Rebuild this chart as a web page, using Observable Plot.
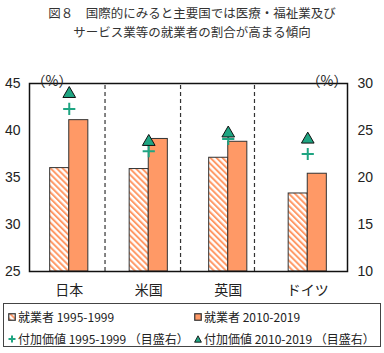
<!DOCTYPE html>
<html><head><meta charset="utf-8">
<script src="https://cdn.jsdelivr.net/npm/d3@7"></script>
<script src="https://cdn.jsdelivr.net/npm/@observablehq/plot@0.6"></script>
<style>
body{margin:0;background:#fff;font-family:"Liberation Sans","Noto Sans CJK JP",sans-serif;color:#222;}
#wrap{width:384px;}
.title{height:40px;box-sizing:border-box;padding-top:4px;text-align:center;font-family:"Noto Sans CJK JP",sans-serif;font-size:12.5px;color:#333;}
.title div{height:18.5px;line-height:18.5px;}
.legend{box-sizing:border-box;margin:3px 0 0 3px;width:378px;height:44px;border:1.5px solid #444;font-family:"Noto Sans CJK JP",sans-serif;font-size:12px;color:#222;position:relative;}
.item{position:absolute;display:flex;align-items:center;white-space:nowrap;}
.item svg{margin-right:2px;}
</style></head>
<body><div id="wrap">
<div class="title"><div>図８　国際的にみると主要国では医療・福祉業及び</div><div>サービス業等の就業者の割合が高まる傾向</div></div>
<div id="chart"></div>
<div class="legend" id="legend"></div>
</div>
<script>
const categories = ["日本", "米国", "英国", "ドイツ"];
const emp1995 = [36.0, 35.9, 37.1, 33.3];       // left axis (%)
const emp2010 = [41.1, 39.1, 38.8, 35.4];       // left axis (%)
const va1995 = [27.3, 22.8, 24.1, 22.5];        // right axis (%)
const va2010 = [28.9, 23.8, 24.7, 24.05];       // right axis (%)
const leftTicks = [25, 30, 35, 40, 45];
const rightTicks = [10, 15, 20, 25, 30];
const separators = [1.45, 2.4, 3.33];
const seriesNames = ["就業者 1995-1999", "就業者 2010-2019", "付加価値 1995-1999（目盛右）", "付加価値 2010-2019（目盛右）"];

const ORANGE = "#FF9966", GREEN = "#1fa582";
const rightOffset = leftTicks[0] - rightTicks[0]; // maps right scale onto left
const w = 0.24;

const rows = categories.map((c, k) => ({c, i: k + 1, e1: emp1995[k], e2: emp2010[k], v1: va1995[k] + rightOffset, v2: va2010[k] + rightOffset}));

const defs = () => {
  const d = d3.create("svg:defs");
  const p = d.append("pattern").attr("id", "hatch").attr("patternUnits", "userSpaceOnUse")
    .attr("width", 4.3).attr("height", 4.3).attr("patternTransform", "rotate(-45)");
  p.append("rect").attr("width", 4.3).attr("height", 4.3).attr("fill", "white");
  p.append("rect").attr("width", 2).attr("height", 4.3).attr("fill", ORANGE);
  return d.node();
};

const chart = Plot.plot({
  width: 384, height: 260,
  marginLeft: 29, marginRight: 37, marginTop: 43, marginBottom: 29,
  style: {fontFamily: "'Liberation Sans','Noto Sans CJK JP',sans-serif", fontSize: "14px", color: "#222", background: "white"},
  x: {type: "linear", domain: [0.5, 4.5]},
  y: {domain: [25, 45]},
  marks: [
    defs,
    Plot.ruleX(separators, {y1: 25, y2: 45, stroke: "#333", strokeWidth: 1.2, strokeDasharray: "4,3"}),
    Plot.rectY(rows, {x1: d => d.i - w, x2: d => d.i, y1: 25, y2: "e1", fill: "url(#hatch)", stroke: "#333", strokeWidth: 1}),
    Plot.rectY(rows, {x1: d => d.i, x2: d => d.i + w, y1: 25, y2: "e2", fill: ORANGE, stroke: "#333", strokeWidth: 1}),
    Plot.dot(rows, {x: "i", y: "v1", symbol: "plus", stroke: GREEN, strokeWidth: 2, r: 4}),
    Plot.dot(rows, {x: "i", y: "v2", symbol: "triangle", fill: GREEN, stroke: "#111", strokeWidth: 1, r: 4.7}),
    Plot.frame({stroke: "#111", strokeWidth: 1.5}),
    Plot.axisY({ticks: leftTicks, tickSize: 0, tickPadding: 9, label: null, fontSize: 14}),
    Plot.axisY({anchor: "right", ticks: leftTicks, tickFormat: d => d - rightOffset, tickSize: 0, tickPadding: 10, label: null, textAnchor: "start", fontSize: 14}),
    Plot.axisX({ticks: rows.map(d => d.i), tickFormat: d => categories[d - 1], tickSize: 0, tickPadding: 14, label: null, fontSize: 14, fontFamily: "'Noto Sans CJK JP',sans-serif"}),
    Plot.text(["（%）"], {frameAnchor: "top-left", dx: 2, dy: -7, fontSize: 14, fontFamily: "'Noto Sans CJK JP',sans-serif"}),
    Plot.text(["（%）"], {frameAnchor: "top-right", dx: 0, dy: -7, fontSize: 14, fontFamily: "'Noto Sans CJK JP',sans-serif"})
  ]
});
document.getElementById("chart").appendChild(chart);

// legend
const icons = [
  `<svg width="8" height="8"><rect x="0.75" y="0.75" width="6.5" height="6.5" fill="url(#hatch)" stroke="#333" stroke-width="1.2"/></svg>`,
  `<svg width="8" height="8"><rect x="0.75" y="0.75" width="6.5" height="6.5" fill="${ORANGE}" stroke="#333" stroke-width="1.2"/></svg>`,
  `<svg width="8" height="8"><path d="M4 0.5V7.5M0.5 4H7.5" stroke="${GREEN}" stroke-width="2"/></svg>`,
  `<svg width="8" height="8"><path d="M4 0.8L7.4 7.2H0.6Z" fill="${GREEN}" stroke="#111" stroke-width="0.9"/></svg>`
];
const pos = [[4, 4], [190, 4], [4, 26], [190, 26]];
const lg = document.getElementById("legend");
seriesNames.forEach((n, k) => {
  const d = document.createElement("div");
  d.className = "item";
  d.style.left = pos[k][0] + "px";
  d.style.top = pos[k][1] + "px";
  d.innerHTML = icons[k] + `<span>${n.replace(" ", "&nbsp;").replace("（", "&nbsp;（")}</span>`;
  lg.appendChild(d);
});
</script></body></html>
